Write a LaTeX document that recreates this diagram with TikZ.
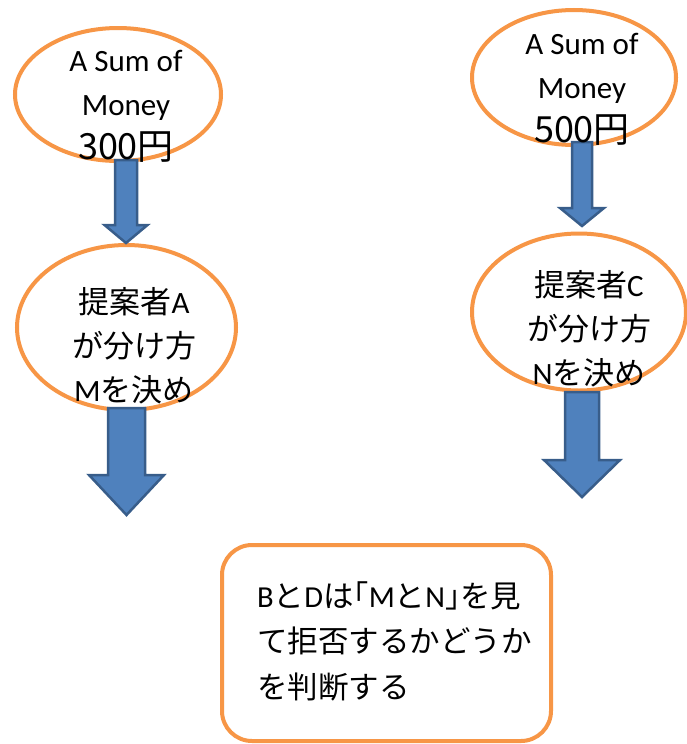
\documentclass[tikz,border=0pt]{standalone}
\usepackage{fontspec}
\setmainfont{Carlito}
\newfontfamily\jp{Noto Sans CJK JP}
\usetikzlibrary{shapes.geometric}
\definecolor{orng}{HTML}{F79646}
\definecolor{bfill}{HTML}{4F81BD}
\definecolor{bline}{HTML}{385D8A}
\tikzset{
  oval/.style={ellipse, draw=orng, line width=4pt, inner sep=0pt, fill=white},
  txt/.style={align=center, font=\fontsize{31}{44}\selectfont, inner sep=0pt},
  boxtxt/.style={align=left, font=\fontsize{30.5}{45.5}\selectfont, inner sep=0pt, anchor=north west},
  barrow/.style={fill=bfill, draw=bline, line width=2.5pt, line join=miter}
}
\newcommand\bigyen[1]{{\jp\fontsize{36}{44}\selectfont #1}}
% xc, shaft half width, top, head half width, head start, tip
\newcommand\blockarrowdraw[6]{%
  \draw[barrow] (#1-#2,#3) -- (#1+#2,#3) -- (#1+#2,#5) -- (#1+#4,#5) -- (#1,#6)
    -- (#1-#4,#5) -- (#1-#2,#5) -- cycle;}
\begin{document}
\begin{tikzpicture}[x=1pt,y=-1pt]
\useasboundingbox (0,0) rectangle (686,744);
% ellipses
\node[oval, minimum width=206pt, minimum height=133pt] (e1) at (118,94.5) {};
\node[oval, minimum width=219pt, minimum height=165pt] (e2) at (126.5,327.5) {};
\node[oval, minimum width=204pt, minimum height=135pt] (e3) at (574,77.5) {};
\node[oval, minimum width=214pt, minimum height=157pt] (e4) at (579,312) {};
% block arrows
\blockarrowdraw{126}{11}{160}{21.5}{225}{243}
\blockarrowdraw{126.5}{18.5}{408}{37.5}{475}{515}
\blockarrowdraw{582}{10}{142}{22}{208}{226}
\blockarrowdraw{582}{17}{392}{38}{460}{497}
% texts
\node[txt] (t1) at (126,106) {A Sum of\\Money\\\bigyen{300円}};
\node[txt] (t3) at (582,89) {A Sum of\\Money\\\bigyen{500円}};
\node[txt] (t2) at (134,346) {{\jp 提案者}A\\{\jp が分け方}\\M{\jp を決め}};
\node[txt] (t4) at (589,329) {{\jp 提案者}C\\{\jp が分け方}\\N{\jp を決め}};
% rounded box
\draw[draw=orng, line width=4pt, rounded corners=30pt, fill=white] (222,545) rectangle (551,741);
\node[boxtxt] (t5) at (257,581) {B{\jp と}D{\jp は｢}M{\jp と}N{\jp ｣を見}\\{\jp て拒否するかどうか}\\{\jp を判断する}};
\end{tikzpicture}
\end{document}
